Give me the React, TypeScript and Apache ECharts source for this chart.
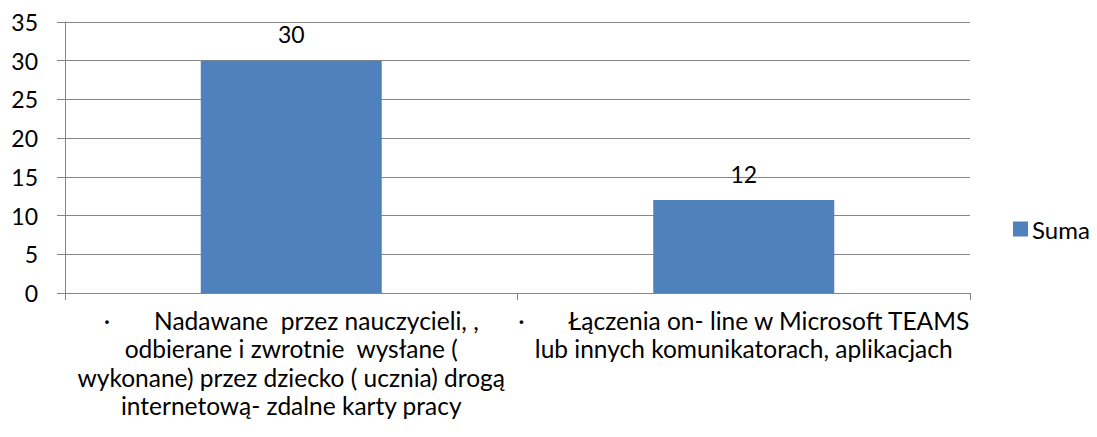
import React, { useEffect, useRef } from "react";
import * as echarts from "echarts";

// Category labels (line breaks as laid out under each bar)
const categories: string[] = [
  "·\u00a0\u00a0\u00a0\u00a0\u00a0\u00a0\u00a0Nadawane\u00a0 przez nauczycieli, ,\nodbierane i zwrotnie\u00a0 wysłane (\nwykonane) przez dziecko ( ucznia) drogą\ninternetową- zdalne karty pracy",
  "·\u00a0\u00a0\u00a0\u00a0\u00a0\u00a0\u00a0Łączenia on- line w Microsoft TEAMS\nlub innych komunikatorach, aplikacjach",
];
const sumaValues: number[] = [30, 12];
const seriesName = "Suma";

const FONT = "Lato, 'Open Sans', sans-serif";

export default function App() {
  const ref = useRef<HTMLDivElement>(null);

  useEffect(() => {
    if (!ref.current) return;
    const chart = echarts.init(ref.current, null, { renderer: "svg" });
    chart.setOption({
      animation: false,
      backgroundColor: "#ffffff",
      textStyle: { fontFamily: FONT, color: "#000" },
      grid: { left: 65, right: 127, top: 22, bottom: 144, containLabel: false },
      legend: {
        data: [seriesName],
        left: 1008,
        top: 212,
        padding: [5, 0, 5, 5],
        icon: "rect",
        itemWidth: 15,
        itemHeight: 15,
        itemGap: 6,
        textStyle: { fontFamily: FONT, fontSize: 24, color: "#000", padding: [0, 0, 0, -1] },
      },
      xAxis: {
        type: "category",
        data: categories,
        axisLine: { lineStyle: { color: "#868686", width: 1 } },
        axisTick: { show: true, length: 7, alignWithLabel: false, lineStyle: { color: "#868686" } },
        axisLabel: {
          interval: 0,
          margin: 13,
          fontFamily: FONT,
          fontSize: 24.5,
          lineHeight: 28.5,
          color: "#000",
          align: "center",
        },
      },
      yAxis: {
        type: "value",
        min: 0,
        max: 35,
        interval: 5,
        axisLine: { show: true, lineStyle: { color: "#868686", width: 1 } },
        axisTick: { show: true, length: 8, lineStyle: { color: "#868686" } },
        splitLine: { show: true, lineStyle: { color: "#868686", width: 1 } },
        axisLabel: { margin: 27, fontFamily: FONT, fontSize: 23, color: "#000" },
      },
      series: [
        {
          name: seriesName,
          type: "bar",
          data: sumaValues,
          barWidth: "40%",
          itemStyle: { color: "#4F81BD" },
          label: {
            show: true,
            position: "top",
            distance: 15,
            fontFamily: FONT,
            fontSize: 23,
            color: "#000",
          },
        },
      ],
    });
    return () => chart.dispose();
  }, []);

  return <div ref={ref} style={{ width: 1097, height: 437, margin: -8 }} />;
}
